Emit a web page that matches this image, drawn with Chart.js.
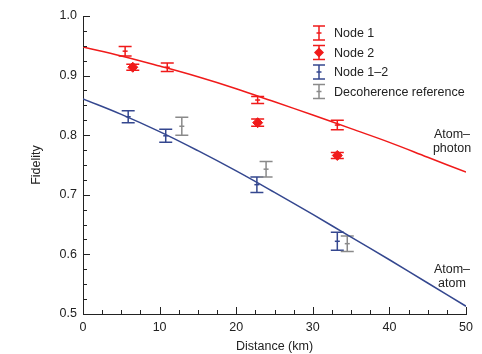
<!DOCTYPE html>
<html>
<head>
<meta charset="utf-8">
<script src="https://cdn.jsdelivr.net/npm/chart.js@4"></script>
<style>
  html, body { margin: 0; padding: 0; background: #fff; }
  #wrap { width: 482px; height: 354px; }
</style>
</head>
<body>
<div id="wrap"><canvas id="myChart" width="482" height="354"></canvas></div>
<script>
// Node 1 (red, errorbars)
const node1X = [5.5, 11.0, 22.8, 33.2];
const node1Y = [0.941, 0.914, 0.859, 0.817];
const node1Err = [0.008, 0.007, 0.006, 0.008];
// Node 2 (red diamonds)
const node2X = [6.5, 22.8, 33.2];
const node2Y = [0.914, 0.821, 0.766];
const node2Err = [0.005, 0.006, 0.005];
// Node 1-2 (blue)
const node12X = [5.9, 10.8, 22.7, 33.2];
const node12Y = [0.831, 0.799, 0.717, 0.622];
const node12Err = [0.010, 0.011, 0.013, 0.015];
// Decoherence reference (grey)
const decoX = [12.9, 23.9, 34.5];
const decoY = [0.815, 0.743, 0.618];
const decoErr = [0.015, 0.013, 0.013];
// theory curves
const curveX = [0, 5, 10, 15, 20, 25, 30, 35, 40, 45, 50];
const atomPhoton = [0.948, 0.933, 0.916, 0.898, 0.878, 0.856, 0.834, 0.811, 0.788, 0.763, 0.738];
const atomAtom = [0.861, 0.835, 0.806, 0.774, 0.740, 0.704, 0.667, 0.629, 0.591, 0.552, 0.513];

const RED = '#f01a1a';
const BLUE = '#34478f';
const GREY = '#8a8a8a';
const FONT = 'Liberation Sans, Arial, sans-serif';

const pts = (xs, ys) => xs.map((x, i) => ({ x: x, y: ys[i] }));

// vertical error bars with caps, drawn through the scales
const errorBars = {
    id: 'errorBars',
    beforeDatasetsDraw(chart) {
        const { ctx, scales: { x, y } } = chart;
        chart.data.datasets.forEach((ds, i) => {
            if (!ds.err || !chart.isDatasetVisible(i)) return;
            ctx.save();
            ctx.strokeStyle = ds.borderColor;
            ctx.lineWidth = 1.5;
            ds.data.forEach((p, j) => {
                const px = x.getPixelForValue(p.x);
                const y1 = y.getPixelForValue(p.y + ds.err[j]);
                const y2 = y.getPixelForValue(p.y - ds.err[j]);
                ctx.beginPath();
                ctx.moveTo(px, y1); ctx.lineTo(px, y2);
                ctx.moveTo(px - 6.5, y1); ctx.lineTo(px + 6.5, y1);
                ctx.moveTo(px - 6.5, y2); ctx.lineTo(px + 6.5, y2);
                ctx.stroke();
            });
            ctx.restore();
        });
    }
};

// inward ticks, legend and curve labels
const decorations = {
    id: 'decorations',
    afterDraw(chart) {
        const { ctx, chartArea: a, scales: { x, y } } = chart;
        ctx.save();
        ctx.strokeStyle = '#222';
        ctx.lineWidth = 1;
        for (let v = 0; v <= 50.001; v += 2.5) {
            const px = Math.round(x.getPixelForValue(v)) + 0.5;
            const len = (Math.abs(v % 10) < 0.01) ? 7 : 4;
            ctx.beginPath(); ctx.moveTo(px, a.bottom); ctx.lineTo(px, a.bottom - len); ctx.stroke();
        }
        for (let v = 0.5; v <= 1.0001; v += 0.025) {
            const py = Math.round(y.getPixelForValue(v)) + 0.5;
            const k = Math.round(v * 1000) % 100;
            const len = (k === 0) ? 7 : 4;
            ctx.beginPath(); ctx.moveTo(a.left, py); ctx.lineTo(a.left + len, py); ctx.stroke();
        }

        // legend
        const rows = [
            { label: 'Node 1', color: RED, mark: 'dash' },
            { label: 'Node 2', color: RED, mark: 'diamond' },
            { label: 'Node 1\u20132', color: BLUE, mark: 'dash' },
            { label: 'Decoherence reference', color: GREY, mark: 'dash' }
        ];
        ctx.font = '12.5px ' + FONT;
        ctx.textBaseline = 'middle';
        ctx.textAlign = 'left';
        rows.forEach((r, i) => {
            const cx = 319, cy = 33 + i * 19.5;
            ctx.strokeStyle = r.color;
            ctx.fillStyle = r.color;
            ctx.lineWidth = 1.5;
            ctx.beginPath();
            ctx.moveTo(cx, cy - 7); ctx.lineTo(cx, cy + 7);
            ctx.moveTo(cx - 6, cy - 7); ctx.lineTo(cx + 6, cy - 7);
            ctx.moveTo(cx - 6, cy + 7); ctx.lineTo(cx + 6, cy + 7);
            ctx.stroke();
            if (r.mark === 'diamond') {
                ctx.beginPath();
                ctx.moveTo(cx, cy - 5); ctx.lineTo(cx + 5, cy); ctx.lineTo(cx, cy + 5); ctx.lineTo(cx - 5, cy);
                ctx.closePath(); ctx.fill();
            } else {
                ctx.beginPath(); ctx.moveTo(cx - 2.5, cy); ctx.lineTo(cx + 2.5, cy); ctx.stroke();
            }
            ctx.fillStyle = '#222';
            ctx.fillText(r.label, 334, cy + 1);
        });

        // curve labels
        ctx.textAlign = 'center';
        ctx.fillStyle = '#222';
        ctx.fillText('Atom\u2013', 452, 135);
        ctx.fillText('photon', 452, 149);
        ctx.fillText('Atom\u2013', 452, 270);
        ctx.fillText('atom', 452, 284);
        ctx.restore();
    }
};

const ctx = document.getElementById('myChart');
new Chart(ctx, {
    type: 'scatter',
    data: {
        datasets: [
            { type: 'line', data: pts(curveX, atomPhoton), borderColor: RED, borderWidth: 1.5, pointRadius: 0, tension: 0.4, fill: false },
            { type: 'line', data: pts(curveX, atomAtom), borderColor: BLUE, borderWidth: 1.5, pointRadius: 0, tension: 0.4, fill: false },
            { label: 'Node 1', data: pts(node1X, node1Y), err: node1Err, borderColor: RED, backgroundColor: RED, pointStyle: 'line', pointRadius: 2.5, borderWidth: 1.5 },
            { label: 'Node 2', data: pts(node2X, node2Y), err: node2Err, borderColor: RED, backgroundColor: RED, pointStyle: 'rectRot', pointRadius: 5, borderWidth: 1 },
            { label: 'Node 1–2', data: pts(node12X, node12Y), err: node12Err, borderColor: BLUE, backgroundColor: BLUE, pointStyle: 'line', pointRadius: 2.5, borderWidth: 1.5 },
            { label: 'Decoherence reference', data: pts(decoX, decoY), err: decoErr, borderColor: GREY, backgroundColor: GREY, pointStyle: 'line', pointRadius: 2.5, borderWidth: 1.5 }
        ]
    },
    options: {
        responsive: false,
        animation: false,
        layout: { padding: { top: 16, right: 16, left: 29, bottom: 0 } },
        plugins: { legend: { display: false }, tooltip: { enabled: false } },
        scales: {
            x: {
                type: 'linear', min: 0, max: 50,
                grid: { display: false, drawTicks: false, tickLength: 0 },
                border: { display: true, color: '#222', width: 1 },
                ticks: { stepSize: 10, color: '#222', font: { family: FONT, size: 12.5 }, padding: 6, maxRotation: 0 },
                title: { display: true, text: 'Distance (km)', color: '#222', font: { family: FONT, size: 12.5 }, padding: { top: 3, bottom: 0 } },
                afterFit(scale) { scale.height = 40; }
            },
            y: {
                min: 0.5, max: 1.0,
                grid: { display: false, drawTicks: false, tickLength: 0 },
                border: { display: true, color: '#222', width: 1 },
                ticks: { stepSize: 0.1, color: '#222', font: { family: FONT, size: 12.5 }, padding: 6, callback: v => v.toFixed(1) },
                title: { display: true, text: 'Fidelity', color: '#222', font: { family: FONT, size: 12.5 }, padding: { top: 0, bottom: 0 } },
                afterFit(scale) { scale.width = 54; }
            }
        }
    },
    plugins: [errorBars, decorations]
});
</script>
</body>
</html>
